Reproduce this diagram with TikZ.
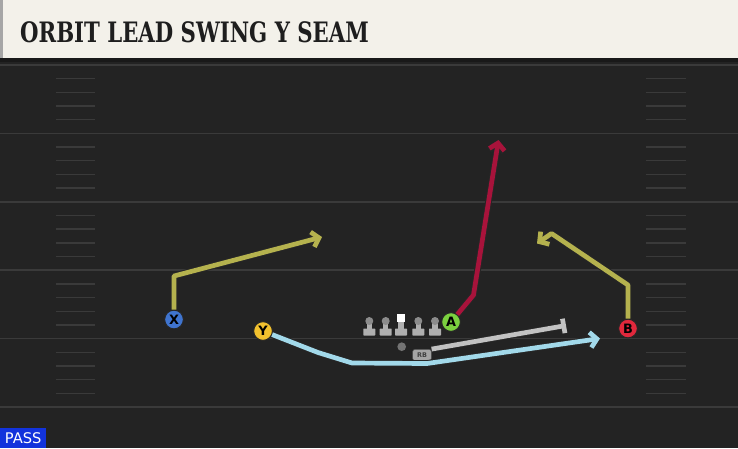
\documentclass[tikz,border=0pt]{standalone}
\usepackage{fontspec}
\usepackage{tikz}
\usetikzlibrary{arrows.meta}
\setsansfont{DejaVu Sans}
\newfontfamily\titlefont{DejaVu Serif}
\definecolor{field}{HTML}{232323}
\definecolor{yard}{HTML}{3A3A3A}
\definecolor{bar}{HTML}{F3F1EA}
\definecolor{ink}{HTML}{1E1E1E}
\definecolor{X}{HTML}{3F74CF}
\definecolor{Y}{HTML}{F2C12E}
\definecolor{A}{HTML}{7BD13F}
\definecolor{B}{HTML}{E1283C}
\definecolor{olive}{HTML}{B5B24E}
\definecolor{crimson}{HTML}{A8133B}
\definecolor{sky}{HTML}{A2D9EA}
\definecolor{block}{HTML}{C2C2C2}
\definecolor{passblue}{HTML}{1233DC}

\tikzset{
  player/.style={circle, draw=black!85, line width=0.8pt, fill=#1, minimum size=0.56cm,
    inner sep=0pt, font=\sffamily\bfseries\fontsize{11}{11}\selectfont},
  route/.style={draw=#1, line width=4pt, line join=round,
    preaction={draw=black!85, line width=5.8pt}},
  go/.style={-{Straight Barb[length=2mm, width=4.6mm]}},
  yardline/.style={draw=yard, line width=1.4pt},
  hash/.style={draw=yard, line width=1.2pt}
}

\begin{document}
\begin{tikzpicture}[x=0.03cm, y=-0.03cm]
    \useasboundingbox (0,0) rectangle (738,448);
    \fill[field] (0,0) rectangle (738,448);
    \foreach \yd in {65,133.4,201.8,270.2,338.6} {
      \foreach \k in {1,...,4} {
        \draw[hash] (56,\yd+\k*13.68) -- (95,\yd+\k*13.68);
        \draw[hash] (646,\yd+\k*13.68) -- (686,\yd+\k*13.68);
      }
    }
    \foreach \yd in {65,133.4,201.8,270.2,338.6,407} {
      \draw[yardline] (0,\yd) -- (738,\yd);
    }

    \fill[black!90] (0,57) rectangle (738,62);
    \fill[bar] (0,0) rectangle (738,58);
    \fill[black!35] (0,0) rectangle (2.5,58);
    \node at (20, 32) (title) [anchor=west, text=ink, xscale=0.755, inner sep=0pt,
      font=\titlefont\bfseries\fontsize{24}{24}\selectfont] {ORBIT LEAD SWING Y SEAM};

    \node at (0, 448) (pass) [anchor=south west, fill=passblue, text=white, inner sep=0pt,
      minimum width=1.38cm, minimum height=0.6cm,
      font=\sffamily\fontsize{12.5}{12.5}\selectfont] {PASS};

    % offensive line
    \foreach \lx in {369.3,385.7,418.3,435} {
      \fill[block!90!black, rounded corners=0.5pt] (\lx-6,328.5) rectangle (\lx+6,335.5);
      \fill[block!90!black] (\lx-2.6,321) rectangle (\lx+2.6,329);
      \fill[black!45] (\lx,321) circle (4);
    }
    \fill[block!90!black, rounded corners=0.5pt] (395,328.5) rectangle (407,335.5);
    \fill[block!90!black] (398.4,321) rectangle (403.6,329);
    \node at (401, 318) (C) [fill=white, minimum size=0.26cm, inner sep=0pt] {};

    \node at (401.7, 346.7) (QB) [circle, fill=black!55, minimum size=0.26cm, inner sep=0pt] {};
    \node at (422, 355) (RB) [rounded corners=2pt, fill=block!85!black, draw=black!70,
      line width=0.4pt, minimum width=0.56cm, minimum height=0.34cm, inner sep=0pt,
      font=\sffamily\bfseries\fontsize{5.5}{5.5}\selectfont, text=black!75] {RB};

    \node at (174, 319.5) (X) [player=X] {X};
    \node at (263, 331) (Y) [player=Y] {Y};
    \node at (451, 322) (A) [player=A] {A};
    \node at (628, 328.5) (B) [player=B] {B};

    \coordinate (Xend) at (322, 237);
    \coordinate (Bend) at (537, 243.5);
    \coordinate (Aend) at (498.5, 140);
    \coordinate (Yend) at (600, 338.5);
    \coordinate (RBend) at (566, 325.5);

    \draw[route=olive, go] (X) -- (174, 276) -- (Xend);
    \draw[route=olive, go] (B) -- (628, 285) -- (551.5, 233.5) -- (Bend);
    \draw[route=crimson, go] (A) -- (473.5, 295) -- (Aend);
    \draw[route=sky, go] (Y) -- (318, 352.5) -- (352, 363) -- (427, 363.5) -- (Yend);
    \draw[route=block, -{Bar[width=4.4mm]}] (RB.north east) -- (RBend);
\end{tikzpicture}
\end{document}
